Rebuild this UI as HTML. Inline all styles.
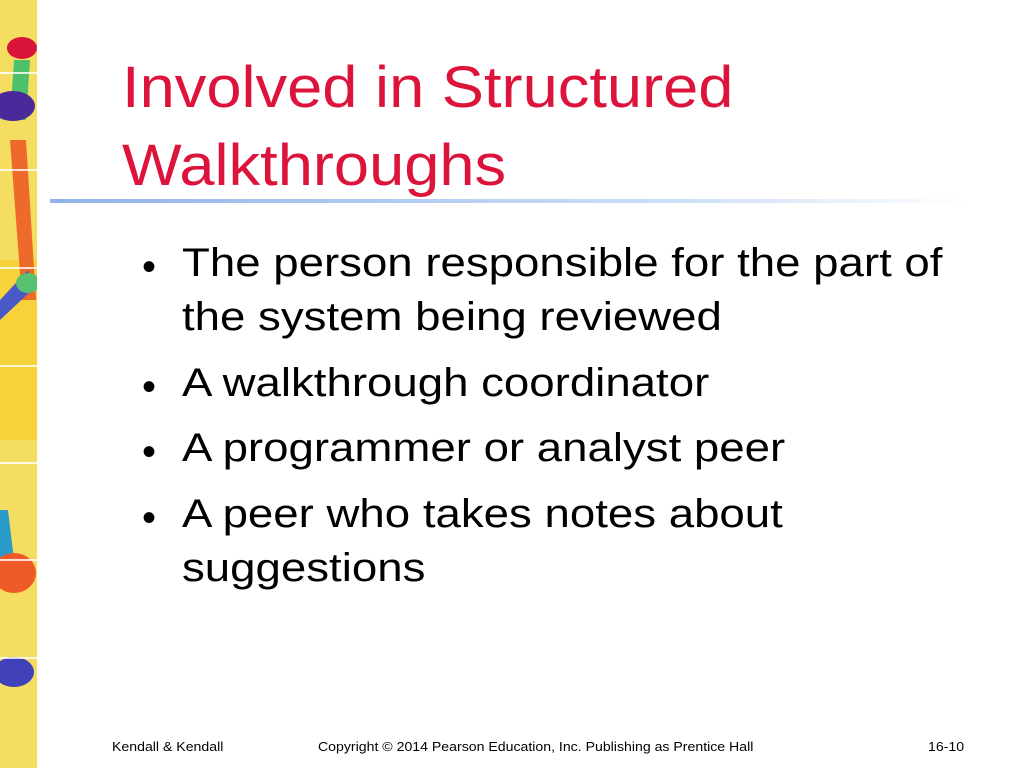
<!DOCTYPE html>
<html><head><meta charset="utf-8"><style>
body{margin:0;width:1024px;height:768px;background:#fff;position:relative;overflow:hidden;font-family:"Liberation Sans",sans-serif}
.t{position:absolute;left:122px;color:#dc143c;font-size:58px;line-height:1;white-space:nowrap;transform:scaleX(1.09);transform-origin:0 0}
.b{position:absolute;left:182px;font-size:40px;color:#000;white-space:nowrap;line-height:1;transform:scaleX(1.14);transform-origin:0 0}
.d{position:absolute;left:142px;font-size:40px;line-height:1}
.f{position:absolute;top:739px;font-size:13px;color:#000;white-space:nowrap;transform:scaleX(1.085);transform-origin:0 0}
</style></head><body>
<svg style="position:absolute;left:0;top:0" width="37" height="768">
<rect width="37" height="768" fill="#f7d84a"/>
<rect x="0" y="0" width="37" height="768" fill="#f3e27a" opacity="0.5"/>
<rect x="0" y="260" width="37" height="180" fill="#f8d23a"/>
<polygon points="14,60 30,60 26,120 10,120" fill="#4cc06a"/>
<polygon points="10,140 26,140 36,300 22,300" fill="#ee6a2a"/>
<polygon points="0,300 28,270 32,290 0,320" fill="#4a58c8"/>
<polygon points="0,510 8,510 14,560 0,560" fill="#2a9ac8"/>
<ellipse cx="22" cy="48" rx="15" ry="11" fill="#d8143a"/>
<ellipse cx="13" cy="106" rx="22" ry="15" fill="#4a2a9a"/>
<ellipse cx="28" cy="283" rx="12" ry="10" fill="#58c070"/>
<ellipse cx="14" cy="573" rx="22" ry="20" fill="#ee5a28"/>
<ellipse cx="14" cy="672" rx="20" ry="15" fill="#4040b8"/>
<g stroke="#fff" stroke-width="2" opacity="0.8"><line x1="0" y1="73" x2="37" y2="73"/><line x1="0" y1="170" x2="37" y2="170"/><line x1="0" y1="268" x2="37" y2="268"/><line x1="0" y1="366" x2="37" y2="366"/><line x1="0" y1="463" x2="37" y2="463"/><line x1="0" y1="560" x2="37" y2="560"/><line x1="0" y1="658" x2="37" y2="658"/></g>
</svg>
<div style="position:absolute;left:50px;top:199px;width:920px;height:4px;background:linear-gradient(90deg,#8fb3ea,#cfe0f8 70%,#fff)"></div>
<div class="t" style="top:59px">Involved in Structured</div>
<div class="t" style="top:137px">Walkthroughs</div>
<div class="d" style="top:247px">•</div>
<div class="b" style="top:243px">The person responsible for the part of</div>
<div class="b" style="top:297px">the system being reviewed</div>
<div class="d" style="top:367px">•</div>
<div class="b" style="top:363px">A walkthrough coordinator</div>
<div class="d" style="top:432px">•</div>
<div class="b" style="top:428px">A programmer or analyst peer</div>
<div class="d" style="top:498px">•</div>
<div class="b" style="top:494px">A peer who takes notes about</div>
<div class="b" style="top:548px">suggestions</div>
<div class="f" style="left:112px">Kendall &amp; Kendall</div>
<div class="f" style="left:318px">Copyright © 2014 Pearson Education, Inc. Publishing as Prentice Hall</div>
<div class="f" style="left:928px">16-10</div>
</body></html>
